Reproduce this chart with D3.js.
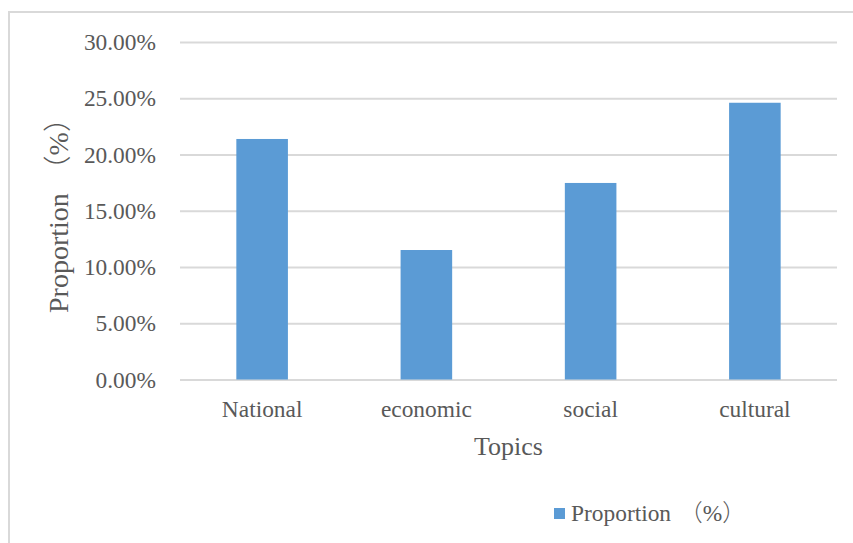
<!DOCTYPE html>
<html>
<head>
<meta charset="utf-8">
<script src="https://cdn.jsdelivr.net/npm/d3@7"></script>
<style>
  body { margin: 0; background: #fff; }
  svg text { font-family: "Liberation Serif", "Times New Roman", serif; fill: #595959; }
  svg .cjk { font-family: "Noto Sans CJK SC", sans-serif; font-weight: 300; }
</style>
</head>
<body>
<div id="chart"></div>
<script>
// chart data
const topics = ["National", "economic", "social", "cultural"];
const proportions = [0.2138, 0.1151, 0.1747, 0.2460];
const yTicks = [0, 0.05, 0.10, 0.15, 0.20, 0.25, 0.30];
const yTitle = "Proportion（%）";
const xTitle = "Topics";
const legendLabel = "Proportion（%）";

const width = 853, height = 543;
const plot = { left: 180, right: 837, top: 42, bottom: 379.5 };

const svg = d3.select("#chart").append("svg")
    .attr("width", width)
    .attr("height", height);

// outer chart border (right and bottom fall outside the picture)
svg.append("rect")
    .attr("x", 9).attr("y", 12)
    .attr("width", 900).attr("height", 600)
    .attr("fill", "none")
    .attr("stroke", "#d9d9d9")
    .attr("stroke-width", 2);

const x = d3.scaleBand()
    .domain(topics)
    .range([plot.left, plot.right])
    .paddingInner(0.686)
    .paddingOuter(0.343);

const y = d3.scaleLinear()
    .domain([0, 0.30])
    .range([plot.bottom, plot.top]);

// gridlines + tick labels
const yAxis = d3.axisLeft(y)
    .tickValues(yTicks)
    .tickFormat(d3.format(".2%"))
    .tickSize(-(plot.right - plot.left))
    .tickPadding(24);

svg.append("g")
    .attr("transform", `translate(${plot.left},0)`)
    .call(yAxis)
    .call(g => g.select(".domain").remove())
    .call(g => g.selectAll(".tick line").attr("stroke", "#d9d9d9").attr("stroke-width", 2))
    .call(g => g.selectAll(".tick text")
        .attr("font-size", 23.4)
        .attr("dy", "0.33em"));

// bars
svg.append("g")
    .selectAll("rect")
    .data(topics)
    .join("rect")
    .attr("x", d => x(d))
    .attr("y", (d, i) => y(proportions[i]))
    .attr("width", x.bandwidth())
    .attr("height", (d, i) => y(0) - y(proportions[i]))
    .attr("fill", "#5b9bd5");

// category labels
const xAxis = d3.axisBottom(x).tickSize(0).tickPadding(0);
svg.append("g")
    .attr("transform", `translate(0,${plot.bottom})`)
    .call(xAxis)
    .call(g => g.select(".domain").remove())
    .call(g => g.selectAll(".tick text")
        .attr("font-size", 23.4)
        .attr("dy", null)
        .attr("y", 37.5));

// axis titles
svg.append("text")
    .attr("x", (plot.left + plot.right) / 2)
    .attr("y", 455)
    .attr("text-anchor", "middle")
    .attr("font-size", 26)
    .text(xTitle);

// split "Proportion（%）" so the full-width brackets get a CJK font
function addLabel(sel, label) {
    const parts = label.match(/^([^（]*)(（)(.*)(）)$/);
    sel.append("tspan").text(parts[1]);
    sel.append("tspan").attr("class", "cjk").attr("dx", "0.35em").text(parts[2]);
    sel.append("tspan").text(parts[3]);
    sel.append("tspan").attr("class", "cjk").text(parts[4]);
}

const yt = svg.append("text")
    .attr("transform", "translate(67.5,313) rotate(-90)")
    .attr("font-size", 28);
addLabel(yt, yTitle);

// legend
const legend = svg.append("g").attr("transform", "translate(554,508)");
legend.append("rect")
    .attr("width", 11).attr("height", 11)
    .attr("fill", "#5b9bd5");
const lt = legend.append("text")
    .attr("x", 17)
    .attr("y", 13)
    .attr("font-size", 23.4);
addLabel(lt, legendLabel);
</script>
</body>
</html>
